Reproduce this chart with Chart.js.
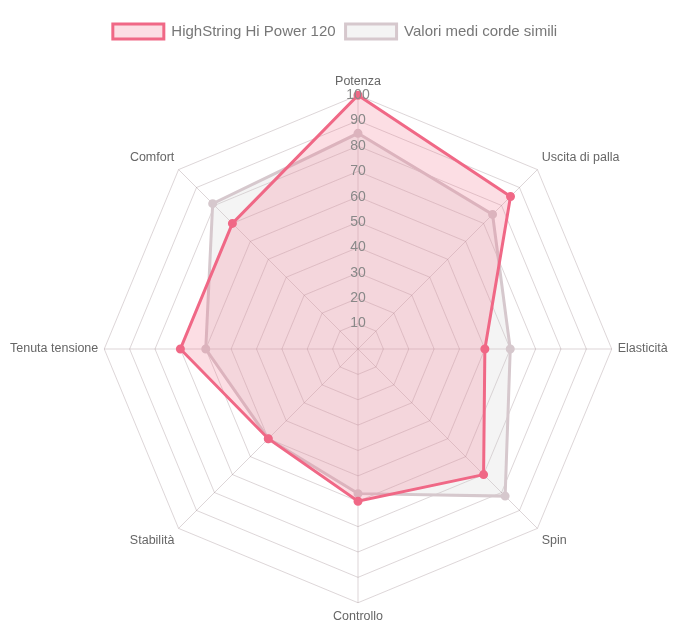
<!DOCTYPE html>
<html>
<head>
<meta charset="utf-8">
<script src="https://cdn.jsdelivr.net/npm/chart.js@4"></script>
<style>
  body { margin: 0; background: #fff; }
  #wrap { width: 696px; height: 641px; }
</style>
</head>
<body>
<div id="wrap"><canvas id="radarChart"></canvas></div>
<script>
const labels = ['Potenza', 'Uscita di palla', 'Elasticità', 'Spin', 'Controllo', 'Stabilità', 'Tenuta tensione', 'Comfort'];
const hiPower = [100, 85, 50, 70, 60, 50, 70, 70];
const mediaSimili = [85, 75, 60, 82, 57, 50, 60, 81];
const ticks = [0, 10, 20, 30, 40, 50, 60, 70, 80, 90, 100];

Chart.defaults.font.family = '"Liberation Sans", Arial, Helvetica, sans-serif';
Chart.defaults.color = '#666';

// room between legend and radar, legend sits a bit left of centre
const legendTweak = {
  id: 'legendTweak',
  beforeInit(chart) {
    const fit = chart.legend.fit;
    chart.legend.fit = function () {
      fit.bind(chart.legend)();
      this.height += 22;
    };
  },
  afterLayout(chart) {
    chart.legend.left -= 17;
    chart.legend.right -= 17;
  }
};

const ctx = document.getElementById('radarChart').getContext('2d');

new Chart(ctx, {
  type: 'radar',
  data: {
    labels,
    datasets: [
      {
        label: 'HighString Hi Power 120',
        data: hiPower,
        borderColor: 'rgb(240,104,134)',
        backgroundColor: 'rgba(240,104,134,0.22)',
        pointBackgroundColor: 'rgb(240,104,134)',
        pointBorderColor: 'rgb(240,104,134)',
        borderWidth: 3,
        pointRadius: 3
      },
      {
        label: 'Valori medi corde simili',
        data: mediaSimili,
        borderColor: 'rgb(214,200,205)',
        backgroundColor: 'rgba(200,200,200,0.2)',
        pointBackgroundColor: 'rgb(214,200,205)',
        pointBorderColor: 'rgb(214,200,205)',
        borderWidth: 3,
        pointRadius: 3
      }
    ]
  },
  options: {
    responsive: true,
    maintainAspectRatio: false,
    animation: false,
    layout: { padding: { top: 14, bottom: 14, left: -1, right: -9 } },
    plugins: {
      legend: {
        position: 'top',
        labels: {
          boxWidth: 51,
          boxHeight: 15,
          padding: 10,
          font: { size: 15 },
          color: '#777'
        }
      },
      tooltip: { enabled: false }
    },
    scales: {
      r: {
        min: ticks[0],
        max: ticks[ticks.length - 1],
        beginAtZero: true,
        angleLines: { color: 'rgba(120,90,100,0.25)' },
        grid: { color: 'rgba(120,90,100,0.25)' },
        pointLabels: { font: { size: 12.5 }, color: '#666', padding: 3 },
        ticks: {
          stepSize: 10,
          showLabelBackdrop: false,
          backdropPadding: -4,
          color: '#888',
          font: { size: 14 },
          z: 1
        }
      }
    }
  },
  plugins: [legendTweak]
});
</script>
</body>
</html>
